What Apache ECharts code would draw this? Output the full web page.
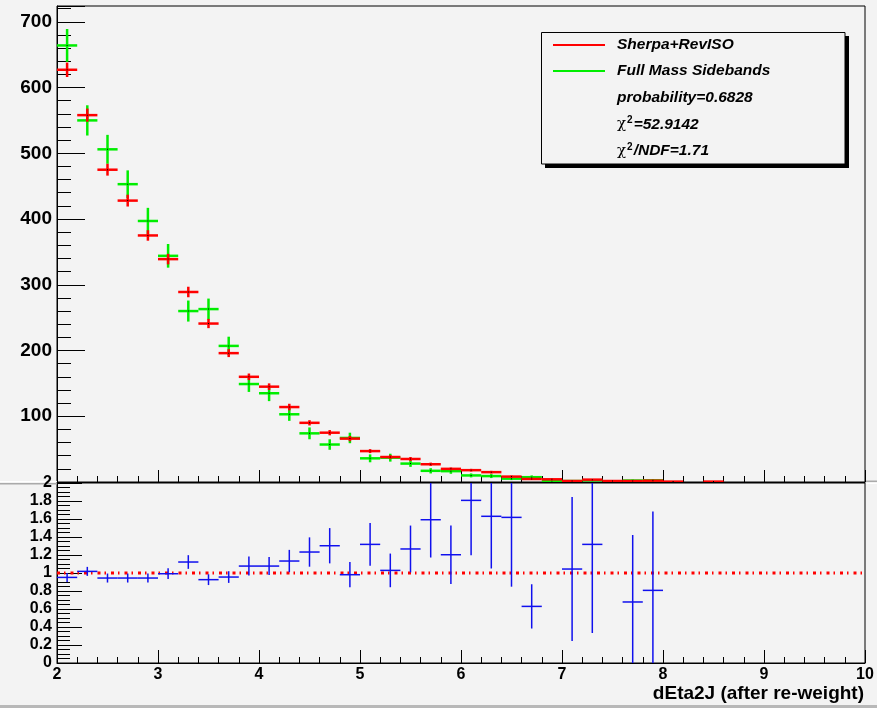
<!DOCTYPE html>
<html>
<head>
<meta charset="utf-8">
<script src="https://cdn.jsdelivr.net/npm/echarts@6/dist/echarts.min.js"></script>
<style>
html,body{margin:0;padding:0;background:#f3f3f3;}
#chart{width:877px;height:708px;}
</style>
</head>
<body>
<div id="chart"></div>
<script>
// ---- data ----
const binCenters = [2.1,2.3,2.5,2.7,2.9,3.1,3.3,3.5,3.7,3.9,4.1,4.3,4.5,4.7,4.9,5.1,5.3,5.5,5.7,5.9,6.1,6.3,6.5,6.7,6.9,7.1,7.3,7.5,7.7,7.9,8.1,8.3,8.5];
const binHalfWidth = 0.1;
const sherpaRevISO    = [627,558,475,428,375,339,289,241,196,160,145,114,90,75,66,47,38,35,27,20,18,15,8.2,4.6,4.1,1.5,3.6,1.5,1.5,2.0,0.6,null,0.6];
const sherpaRevISOErr = [11,10,9,9,8,8,8,7,6,5,5,5,4,4,4,3,3,3,2.5,2,2,2,1.5,1,1,0.5,1,0.5,0.5,0.5,0.3,null,0.3];
const fullMassSB      = [664,550,506,453,397,344,260,263,207,149,135,103,74,57,67,36,37,28,17,16.5,10,9,5.1,7.3,1.5,1.45,2.7,null,2.2,2.5,null,null,null];
const fullMassSBErr   = [25,23,22,21,20,18,16,16,14,12,12,10,9,8,8,6,6,5,4,4,3,3,2.2,2.7,1.2,1.2,1.6,null,1.5,1.6,null,null,null];
const ratio           = [0.951,1.018,0.944,0.944,0.944,0.992,1.122,0.926,0.955,1.077,1.077,1.133,1.233,1.303,0.981,1.318,1.029,1.267,1.592,1.203,1.807,1.63,1.618,0.629,null,1.044,1.318,null,0.678,0.807,null,null,null];
const ratioErr        = [0.05,0.05,0.05,0.05,0.05,0.06,0.076,0.06,0.065,0.105,0.1,0.124,0.163,0.196,0.14,0.237,0.187,0.26,0.42,0.326,0.61,0.58,0.77,0.246,null,0.8,0.985,null,0.744,0.877,null,null,null];
const legendNames = ['Sherpa+RevISO', 'Full Mass Sidebands'];
const statLines = ['probability=0.6828', '52.9142', '1.71'];
const xTitle = 'dEta2J (after re-weight)';

function toData(vals, errs) {
  const out = [];
  for (let i = 0; i < binCenters.length; i++) {
    if (vals[i] !== null && vals[i] !== undefined) out.push([binCenters[i], vals[i], errs[i] || 0]);
  }
  return out;
}

function crossRenderer(color, lw, dot) {
  return function (params, api) {
    const x = api.value(0), y = api.value(1), e = api.value(2);
    const cs = params.coordSys;
    const top = cs.y, bot = cs.y + cs.height;
    const clamp = v => Math.max(top, Math.min(bot, v));
    const a = api.coord([x - binHalfWidth, y]);
    const b = api.coord([x + binHalfWidth, y]);
    const c = api.coord([x, y]);
    const t = clamp(api.coord([x, y + e])[1]);
    const bb = clamp(api.coord([x, y - e])[1]);
    const hy = clamp(a[1]);
    const children = [
      {type: 'line', shape: {x1: a[0], y1: hy, x2: b[0], y2: hy}, style: {stroke: color, lineWidth: lw}},
      {type: 'line', shape: {x1: c[0], y1: t, x2: c[0], y2: bb}, style: {stroke: color, lineWidth: lw}}
    ];
    if (dot) children.push({type: 'rect', shape: {x: c[0] - 0.5, y: hy - 0.5, width: 1, height: 1}, style: {fill: '#000'}});
    return {type: 'group', children: children};
  };
}

const FONT = '"Liberation Sans", Arial, Helvetica, sans-serif';
const chart = echarts.init(document.getElementById('chart'), null, {renderer: 'canvas'});

const axisLineStyle = {show: true, lineStyle: {color: '#000', width: 1}};

const option = {
  animation: false,
  backgroundColor: '#f3f3f3',
  grid: [
    {left: 57, right: 12, top: 6, height: 476, show: true, borderColor: '#000', borderWidth: 1, backgroundColor: 'transparent'},
    {left: 57, right: 12, top: 483, height: 180, show: true, borderColor: '#000', borderWidth: 1, backgroundColor: 'transparent'}
  ],
  xAxis: [
    {gridIndex: 0, type: 'value', min: 2, max: 10, interval: 1,
     axisLine: axisLineStyle,
     axisTick: {show: true, inside: true, length: 12, lineStyle: {color: '#000'}},
     minorTick: {show: true, splitNumber: 5, length: 6, lineStyle: {color: '#000'}},
     axisLabel: {show: false}, splitLine: {show: false}},
    {gridIndex: 1, type: 'value', min: 2, max: 10, interval: 1,
     axisLine: axisLineStyle,
     axisTick: {show: true, inside: true, length: 13, lineStyle: {color: '#000'}},
     minorTick: {show: true, splitNumber: 5, length: 6, lineStyle: {color: '#000'}},
     axisLabel: {show: true, margin: 4, fontFamily: FONT, fontWeight: 'bold', fontSize: 16, color: '#000'},
     splitLine: {show: false}}
  ],
  yAxis: [
    {gridIndex: 0, type: 'value', min: 0, max: 724, interval: 100,
     axisLine: axisLineStyle,
     axisTick: {show: true, inside: true, length: 28, lineStyle: {color: '#000'}},
     minorTick: {show: true, splitNumber: 5, length: 14, lineStyle: {color: '#000'}},
     axisLabel: {show: true, margin: 5, fontFamily: FONT, fontWeight: 'bold', fontSize: 19, color: '#000',
       formatter: v => (v > 0 && v % 100 === 0) ? String(v) : ''},
     splitLine: {show: false}},
    {gridIndex: 1, type: 'value', min: 0, max: 2, interval: 0.2,
     axisLine: axisLineStyle,
     axisTick: {show: true, inside: true, length: 25, lineStyle: {color: '#000'}},
     minorTick: {show: true, splitNumber: 4, length: 13, lineStyle: {color: '#000'}},
     axisLabel: {show: true, margin: 5, fontFamily: FONT, fontWeight: 'bold', fontSize: 16, color: '#000',
       formatter: v => String(Math.round(v * 10) / 10)},
     splitLine: {show: false}}
  ],
  series: [
    {name: legendNames[1], type: 'custom', xAxisIndex: 0, yAxisIndex: 0, clip: true,
     renderItem: crossRenderer('#00ee00', 2.5, true), data: toData(fullMassSB, fullMassSBErr), z: 3},
    {name: legendNames[0], type: 'custom', xAxisIndex: 0, yAxisIndex: 0, clip: true,
     renderItem: crossRenderer('#ff0000', 2.5, true), data: toData(sherpaRevISO, sherpaRevISOErr), z: 4},
    {name: 'ratio', type: 'custom', xAxisIndex: 1, yAxisIndex: 1, clip: true,
     renderItem: crossRenderer('#1010ee', 1.5, false), data: toData(ratio, ratioErr), z: 4},
    {name: 'unity', type: 'line', xAxisIndex: 1, yAxisIndex: 1, symbol: 'none', silent: true,
     data: [[2, 1], [10, 1]],
     lineStyle: {color: '#ff0000', width: 3, type: [3, 4, 1.5, 5]}, z: 3}
  ],
  graphic: [
    // pad boundaries
    {type: 'rect', shape: {x: 0, y: 481, width: 57, height: 1}, style: {fill: '#ffffff'}, silent: true},
    {type: 'rect', shape: {x: 0, y: 483, width: 57, height: 1.5}, style: {fill: '#aaaaaa'}, silent: true},
    {type: 'rect', shape: {x: 866, y: 480.5, width: 11, height: 1.5}, style: {fill: '#aaaaaa'}, silent: true},
    {type: 'rect', shape: {x: 866, y: 483, width: 11, height: 1}, style: {fill: '#ffffff'}, silent: true},
    {type: 'rect', shape: {x: 0, y: 705, width: 877, height: 3}, style: {fill: '#b8b8b8'}, silent: true},
    // legend box with shadow
    {type: 'rect', shape: {x: 545, y: 36, width: 304, height: 132}, style: {fill: '#000'}, silent: true, z: 10},
    {type: 'rect', shape: {x: 541.5, y: 32.5, width: 303.5, height: 131.5}, style: {fill: '#f3f3f3', stroke: '#000', lineWidth: 1}, silent: true, z: 11},
    {type: 'line', shape: {x1: 553, y1: 45, x2: 605, y2: 45}, style: {stroke: '#ff0000', lineWidth: 2}, z: 12},
    {type: 'line', shape: {x1: 553, y1: 71, x2: 605, y2: 71}, style: {stroke: '#00ee00', lineWidth: 2}, z: 12},
    {type: 'text', x: 617, y: 45, z: 12, style: {text: legendNames[0], font: 'italic bold 15.5px ' + FONT, fill: '#000', verticalAlign: 'middle'}},
    {type: 'text', x: 617, y: 71, z: 12, style: {text: legendNames[1], font: 'italic bold 15.5px ' + FONT, fill: '#000', verticalAlign: 'middle'}},
    {type: 'text', x: 617, y: 98, z: 12, style: {text: statLines[0], font: 'italic bold 15.5px ' + FONT, fill: '#000', verticalAlign: 'middle'}},
    {type: 'text', x: 617, y: 124.5, z: 12, style: {
      text: '{c|χ}{s|2}{t|=' + statLines[1] + '}', verticalAlign: 'middle',
      rich: {c: {font: '15px "DejaVu Serif", serif', fill: '#000'},
             s: {font: 'bold 10px ' + FONT, fill: '#000', padding: [0, 1, 8, 1]},
             t: {font: 'italic bold 15.5px ' + FONT, fill: '#000'}}}},
    {type: 'text', x: 617, y: 151, z: 12, style: {
      text: '{c|χ}{s|2}{t|/NDF=' + statLines[2] + '}', verticalAlign: 'middle',
      rich: {c: {font: '15px "DejaVu Serif", serif', fill: '#000'},
             s: {font: 'bold 10px ' + FONT, fill: '#000', padding: [0, 1, 8, 1]},
             t: {font: 'italic bold 15.5px ' + FONT, fill: '#000'}}}},
    // x axis title
    {type: 'text', x: 864, y: 694, z: 12, style: {text: xTitle, font: 'bold 19px ' + FONT, fill: '#000', align: 'right', verticalAlign: 'middle'}}
  ]
};
chart.setOption(option);
</script>
</body>
</html>
